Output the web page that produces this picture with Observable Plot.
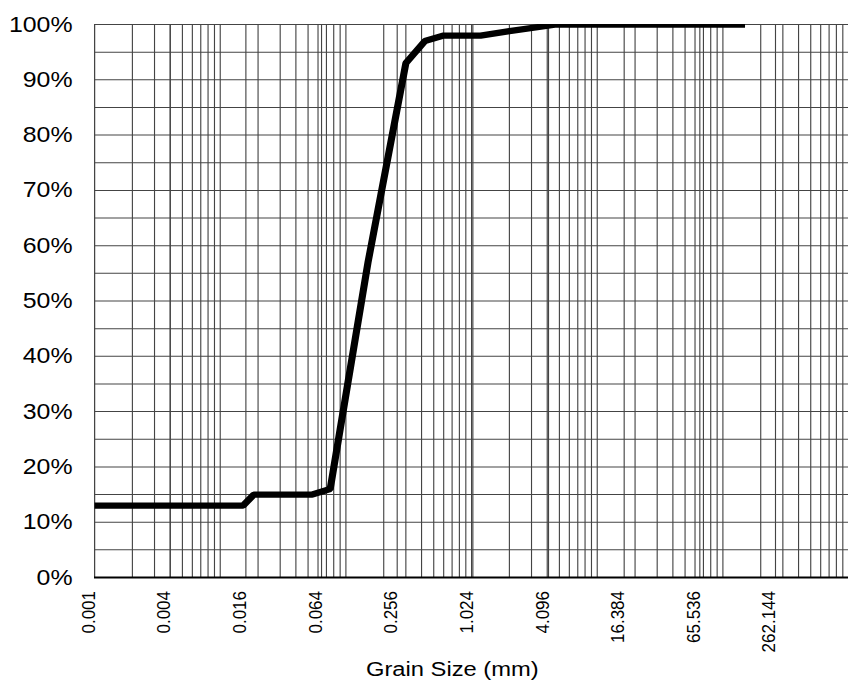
<!DOCTYPE html>
<html>
<head>
<meta charset="utf-8">
<script src="https://cdn.jsdelivr.net/npm/d3@7"></script>
<script src="https://cdn.jsdelivr.net/npm/@observablehq/plot@0.6"></script>
<style>
  html, body { margin: 0; padding: 0; background: #fff; }
  #chart svg { display: block; }
</style>
</head>
<body>
<div id="chart"></div>
<script>
// Particle-size distribution: cumulative percent passing vs. grain diameter (mm)
const grainSize      = [0.001, 0.0152, 0.0185, 0.054, 0.075, 0.15, 0.3, 0.425, 0.6, 1.18, 2.0, 4.75, 150];
const percentPassing = [13,    13,     15,     15,    16,    57,   93,  97,    98,  98,   98.8, 100,  100];

// Axis ticks and labels
const sizeTicks      = [0.001, 0.004, 0.016, 0.064, 0.256, 1.024, 4.096, 16.384, 65.536, 262.144];
const sizeTickLabels = ["0.001", "0.004", "0.016", "0.064", "0.256", "1.024", "4.096", "16.384", "65.536", "262.144"];
const percentTicks   = [0, 10, 20, 30, 40, 50, 60, 70, 80, 90, 100];
const percentGrid    = [0, 5, 10, 15, 20, 25, 30, 35, 40, 45, 50, 55, 60, 65, 70, 75, 80, 85, 90, 95, 100];
const sizeDomain     = [0.001, 1000];
const xTitle         = "Grain Size (mm)";

const rows = grainSize.map((size, i) => ({size, passing: percentPassing[i]}));
const tickRows = sizeTicks.map((size, i) => ({size, label: sizeTickLabels[i]}));

// Log grid: 1–9 in every decade plus the base-4 label positions
const sizeGrid = d3.scaleLog().domain(sizeDomain).ticks(20).concat(sizeTicks);

// The drawing is laid out on a narrower canvas and widened to the page width
const pageWidth = 848, W = 750, H = 681, widen = pageWidth / W;
const font = "'Liberation Sans', Arial, Helvetica, sans-serif";
const gridColor = "#444";

const chart = Plot.plot({
  width: W,
  height: H,
  marginLeft: 94 / widen,
  marginRight: 0,
  marginTop: 24,
  marginBottom: 104,
  style: {fontFamily: font, color: "#000", background: "#fff"},
  x: {type: "log", domain: sizeDomain, axis: null},
  y: {domain: [0, 100], axis: null},
  marks: [
    Plot.ruleX(sizeGrid, {x: d => d, stroke: gridColor, strokeWidth: 1}),
    Plot.ruleY(percentGrid, {y: d => d, stroke: gridColor, strokeWidth: 1}),
    Plot.ruleY([0], {stroke: "#000", strokeWidth: 2}),
    Plot.line(rows, {
      x: "size", y: "passing",
      stroke: "#000", strokeWidth: 6.3,
      strokeLinejoin: "miter", strokeLinecap: "butt",
      clip: true
    }),
    // percent labels left of the frame
    Plot.text(percentTicks, {
      y: d => d,
      text: d => d + "%",
      frameAnchor: "left",
      textAnchor: "end",
      dx: -19.5,
      fontSize: 22,
      fill: "#000"
    }),
    // grain-size labels, rotated, below the frame
    Plot.text(tickRows, {
      x: "size",
      text: "label",
      frameAnchor: "bottom",
      rotate: -90,
      textAnchor: "end",
      dy: 13.5,
      fontSize: 17,
      fill: "#000"
    }),
    Plot.text([xTitle], {
      text: d => d,
      frameAnchor: "bottom",
      lineAnchor: "bottom",
      dx: -17, dy: 98,
      fontSize: 21,
      fill: "#000"
    })
  ]
});

chart.setAttribute("width", pageWidth);
chart.setAttribute("height", H);
chart.setAttribute("preserveAspectRatio", "none");
chart.style.width = pageWidth + "px";
chart.style.height = H + "px";
chart.style.maxWidth = "none";

document.getElementById("chart").appendChild(chart);
</script>
</body>
</html>
